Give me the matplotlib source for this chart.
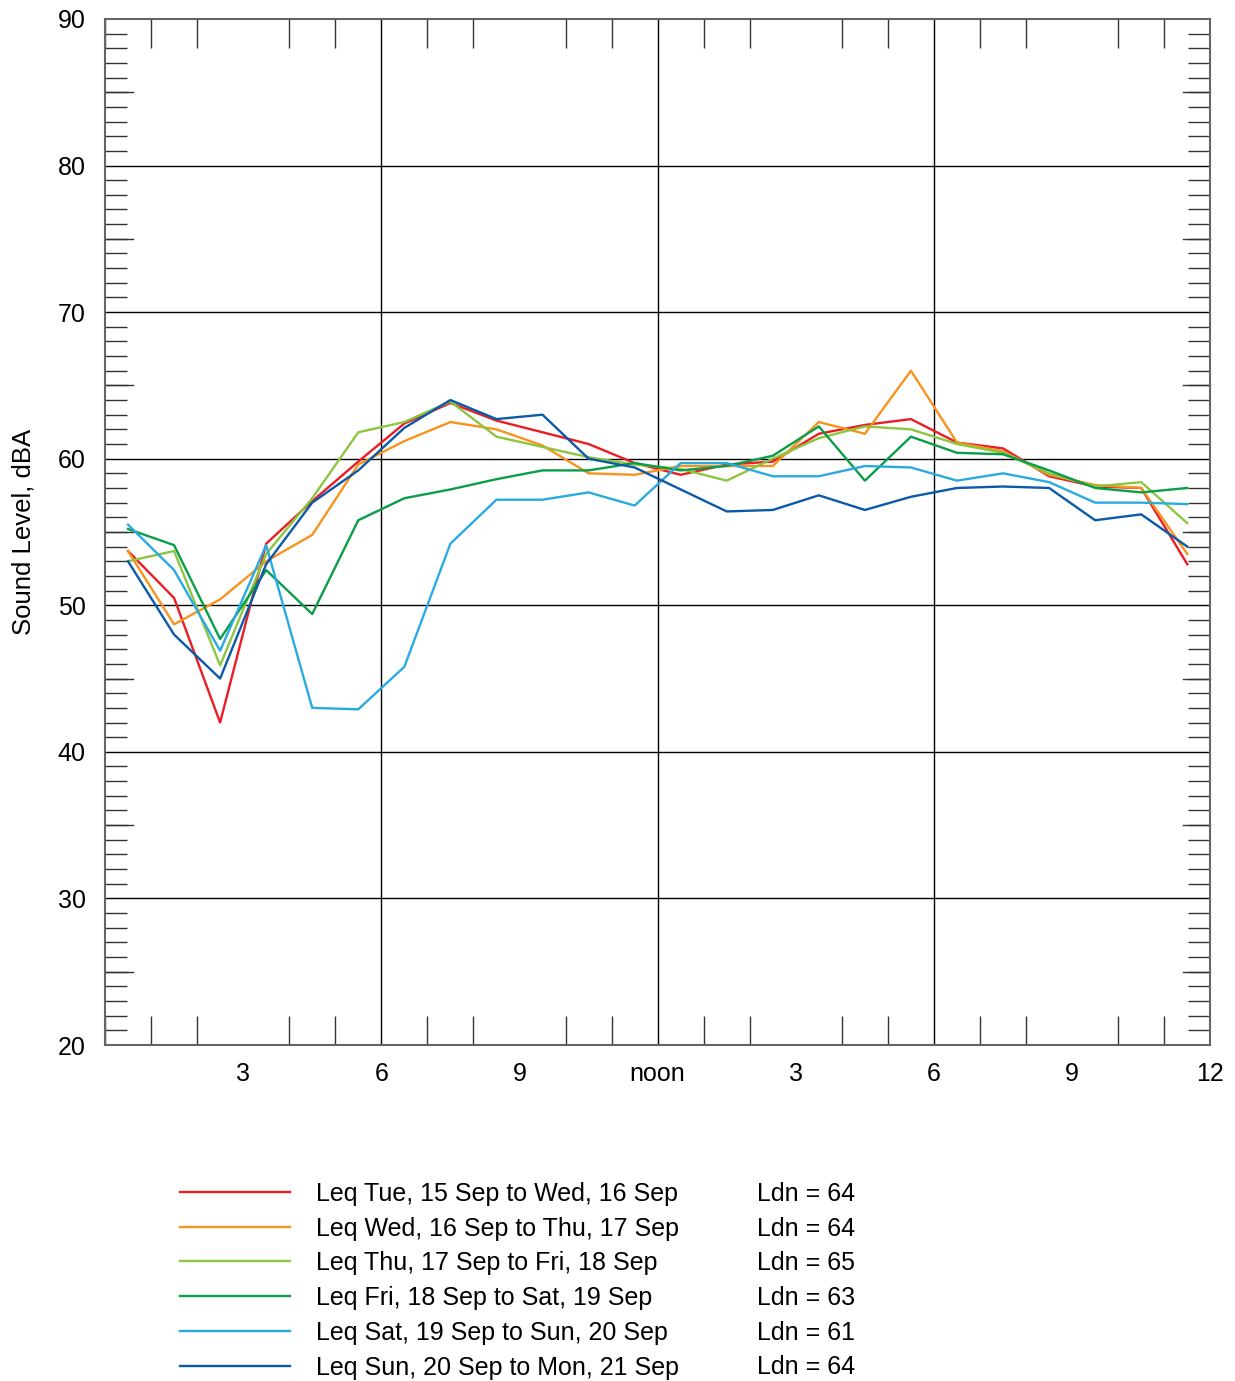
import numpy as np
import matplotlib
matplotlib.use('Agg')
import matplotlib.pyplot as plt
from matplotlib.lines import Line2D
from matplotlib.ticker import MultipleLocator, FixedLocator

plt.rcParams['font.family'] = ['Liberation Sans', 'DejaVu Sans']

# hourly Leq, plotted at the middle of each hour (0.5 .. 23.5)
hours = np.arange(24) + 0.5

leq_tue = [53.7, 50.5, 42.0, 54.2, 57.1, 59.8, 62.4, 63.8, 62.6, 61.8, 61.0, 59.7,
           58.9, 59.6, 59.8, 61.7, 62.3, 62.7, 61.1, 60.7, 58.8, 58.1, 58.0, 52.8]
leq_wed = [53.7, 48.7, 50.4, 53.0, 54.8, 59.6, 61.2, 62.5, 62.0, 60.9, 59.0, 58.9,
           59.5, 59.5, 59.5, 62.5, 61.7, 66.0, 61.1, 60.5, 58.9, 58.2, 58.0, 53.5]
leq_thu = [53.0, 53.7, 45.9, 53.5, 57.3, 61.8, 62.5, 63.9, 61.5, 60.8, 60.1, 59.6,
           59.3, 58.5, 60.0, 61.4, 62.2, 62.0, 61.0, 60.4, 59.0, 58.1, 58.4, 55.6]
leq_fri = [55.2, 54.1, 47.7, 52.4, 49.4, 55.8, 57.3, 57.9, 58.6, 59.2, 59.2, 59.7,
           59.2, 59.5, 60.2, 62.2, 58.5, 61.5, 60.4, 60.3, 59.2, 58.0, 57.7, 58.0]
leq_sat = [55.5, 52.4, 46.9, 54.1, 43.0, 42.9, 45.8, 54.2, 57.2, 57.2, 57.7, 56.8,
           59.7, 59.7, 58.8, 58.8, 59.5, 59.4, 58.5, 59.0, 58.4, 57.0, 57.0, 56.9]
leq_sun = [53.0, 48.0, 45.0, 52.8, 57.0, 59.2, 62.1, 64.0, 62.7, 63.0, 60.0, 59.4,
           57.9, 56.4, 56.5, 57.5, 56.5, 57.4, 58.0, 58.1, 58.0, 55.8, 56.2, 54.0]

series = [leq_tue, leq_wed, leq_thu, leq_fri, leq_sat, leq_sun]
labels = ['Leq Tue, 15 Sep to Wed, 16 Sep',
          'Leq Wed, 16 Sep to Thu, 17 Sep',
          'Leq Thu, 17 Sep to Fri, 18 Sep',
          'Leq Fri, 18 Sep to Sat, 19 Sep',
          'Leq Sat, 19 Sep to Sun, 20 Sep',
          'Leq Sun, 20 Sep to Mon, 21 Sep']
ldn = [64, 64, 65, 63, 61, 64]
colors = ['#ec1c24', '#f7931e', '#8cc63f', '#0a9e48', '#29aae1', '#0b5aa8']

xtick_pos = [3, 6, 9, 12, 15, 18, 21, 24]
xtick_labels = ['3', '6', '9', 'noon', '3', '6', '9', '12']

FS = 18

fig = plt.figure(figsize=(12.35, 13.81), dpi=100)
ax = fig.add_axes([0.085, 0.2433, 0.895, 0.743])

for vals, c in zip(series, colors):
    ax.plot(hours, vals, color=c, lw=1.7, zorder=3)

ax.set_xlim(0, 24)
ax.set_ylim(20, 90)

# grid lines
for gx in [6, 12, 18]:
    ax.axvline(gx, color='black', lw=1.0, zorder=1)
for gy in range(30, 90, 10):
    ax.axhline(gy, color='black', lw=1.0, zorder=1)

ax.xaxis.set_major_locator(FixedLocator(xtick_pos))
ax.set_xticklabels(xtick_labels, fontsize=FS)
ax.xaxis.set_minor_locator(MultipleLocator(1))
ax.tick_params(axis='x', which='major', length=0, pad=12)
ax.tick_params(axis='x', which='minor', direction='in', length=21, width=1.0,
               top=True, bottom=True, color='#333333')

ax.yaxis.set_major_locator(MultipleLocator(10))
ax.yaxis.set_minor_locator(MultipleLocator(1))
ax.tick_params(axis='y', which='major', length=0, pad=14, labelsize=FS)
ax.tick_params(axis='y', which='minor', direction='in', length=16, width=1.0,
               left=True, right=True, color='#333333')
# longer ticks at the 5s
for yv in range(25, 90, 10):
    ax.plot([0, 0.6], [yv, yv], color='#333333', lw=1.0, clip_on=False, zorder=2)
    ax.plot([23.4, 24], [yv, yv], color='#333333', lw=1.0, clip_on=False, zorder=2)

for sp in ax.spines.values():
    sp.set_color('#666666')
    sp.set_linewidth(1.5)

ax.set_ylabel('Sound Level, dBA', fontsize=18.5, labelpad=16)

# legend below the chart
y0 = 1192
for i, (lab, c, l) in enumerate(zip(labels, colors, ldn)):
    yf = 1 - (y0 + i * 34.7) / 1381
    fig.add_artist(Line2D([180 / 1235, 290 / 1235], [yf, yf], color=c, lw=1.7))
    fig.text(316 / 1235, yf - 2 / 1381, lab, fontsize=FS, va='center', ha='left')
    fig.text(757 / 1235, yf - 2 / 1381, 'Ldn = %d' % l, fontsize=FS, va='center', ha='left')

fig.savefig('out.png', dpi=100)
